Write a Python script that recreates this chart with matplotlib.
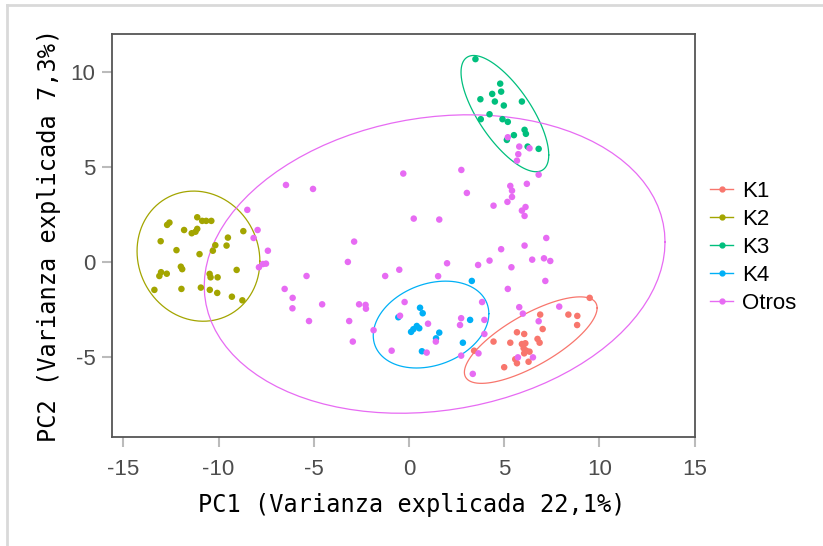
import numpy as np
import matplotlib
matplotlib.use("Agg")
import matplotlib.pyplot as plt
from matplotlib.lines import Line2D

plt.rcParams["axes.unicode_minus"] = False

# PCA scores, one pair of lists per group
k1_x = [9.49, 6.89, 8.37, 8.84, 8.83, 7.02, 5.67, 6.05, 6.75, 6.86, 4.44, 5.32,
        5.93, 6.11, 6.02, 6.16, 6.05, 6.33, 3.42, 5.58, 5.67, 6.28, 5.00]
k1_y = [-1.89, -2.77, -2.77, -2.84, -3.32, -3.53, -3.70, -3.79, -4.05, -4.25, -4.19, -4.25,
        -4.32, -4.28, -4.54, -4.67, -4.81, -4.72, -4.67, -5.12, -5.33, -5.25, -5.54]

k2_x = [-12.58, -12.70, -11.12, -10.86, -10.65, -10.38, -11.81, -11.41, -11.21, -11.12,
        -13.04, -12.21, -11.00, -10.17, -10.30, -9.51, -9.58, -8.70, -11.98, -11.91,
        -13.02, -13.11, -12.72, -9.05, -10.47, -10.42, -10.05, -13.37, -11.95, -10.93,
        -10.46, -10.07, -9.30, -8.75]
k2_y = [2.07, 1.95, 2.35, 2.16, 2.16, 2.16, 1.68, 1.51, 1.59, 1.74,
        1.09, 0.62, 0.41, 0.88, 0.59, 1.28, 0.86, 1.62, -0.25, -0.38,
        -0.54, -0.74, -0.62, -0.42, -0.63, -0.81, -0.81, -1.47, -1.42, -1.35,
        -1.47, -1.63, -1.83, -2.02]

k3_x = [3.49, 4.79, 4.37, 4.84, 3.75, 4.51, 4.98, 5.93, 4.23, 3.77, 4.91, 5.19,
        5.51, 6.07, 6.14, 5.14, 6.23, 6.81]
k3_y = [10.67, 9.38, 8.84, 8.96, 8.56, 8.44, 8.23, 8.44, 7.77, 7.51, 7.51, 7.37,
        6.67, 6.95, 6.74, 6.42, 6.07, 5.95]

k4_x = [3.30, 0.58, 0.72, -0.56, 0.41, 0.23, 0.11, 0.54, 3.21, 1.59, 1.42, 2.83, 0.68]
k4_y = [-1.00, -2.41, -2.70, -2.91, -3.37, -3.54, -3.68, -3.49, -3.05, -3.72, -4.02, -4.25, -4.70]

otros_x = [-8.49, -6.46, -5.04, -0.30, -7.95, -8.16, -7.41, -7.88, -7.67, -7.51,
           -5.38, -2.88, -3.21, -1.25, -0.51, 0.25, 1.59, 2.00, 1.53, -6.53,
           -6.11, -6.12, -4.56, -5.25, -3.14, -2.95, -2.62, -2.28, -2.26, -1.86,
           -0.91, -0.23, -0.47, 1.00, 1.41, 0.93, 3.84, 2.74, 2.68, 3.96,
           3.96, 2.74, 3.65, 5.19, 7.16, 5.79, 5.98, 7.89, 6.81, 5.72,
           6.51, 3.35, 2.75, 3.04, 4.44, 5.32, 5.41, 5.41, 5.17, 6.19,
           6.12, 5.93, 6.07, 7.21, 6.07, 4.84, 4.23, 3.63, 5.38, 6.47,
           7.09, 7.42, 5.19, 5.79, 6.33, 5.74, 5.67, 6.81]
otros_y = [2.74, 4.05, 3.84, 4.65, 1.68, 1.26, 0.59, -0.28, -0.11, -0.09,
           -0.74, 1.07, 0.00, -0.74, -0.41, 2.28, 2.23, -0.07, -0.75, -1.42,
           -1.89, -2.44, -2.23, -3.11, -3.11, -4.19, -2.23, -2.26, -2.46, -3.59,
           -4.67, -2.11, -2.83, -3.25, -4.19, -4.77, -2.11, -2.96, -3.32, -3.05,
           -3.79, -4.93, -4.81, -1.42, -1.00, -2.38, -2.72, -2.35, -3.12, -5.02,
           -5.02, -5.89, 4.84, 3.63, 2.96, 4.00, 3.75, 3.42, 3.16, 4.11,
           2.89, 2.70, 2.42, 1.26, 0.86, 0.67, 0.07, -0.16, -0.28, 0.12,
           0.19, 0.05, 6.56, 6.07, 5.98, 5.67, 5.33, 4.59]

groups = ["K1", "K2", "K3", "K4", "Otros"]
xs = [k1_x, k2_x, k3_x, k4_x, otros_x]
ys = [k1_y, k2_y, k3_y, k4_y, otros_y]
colors = ["#F8766D", "#A3A500", "#00BF7D", "#00B0F6", "#E76BF3"]


def conf_ellipse(x, y, level=0.95, segments=100):
    # normal-theory ellipse, like stat_ellipse(type = "norm")
    pts = np.column_stack([x, y])
    center = pts.mean(axis=0)
    cov = np.cov(pts.T)
    chol = np.linalg.cholesky(cov).T
    radius = np.sqrt(-2 * np.log(1 - level))  # chi-square, 2 df
    t = np.linspace(0, 2 * np.pi, segments + 1)
    circle = np.column_stack([np.cos(t), np.sin(t)])
    ell = center + radius * circle @ chol
    return ell[:, 0], ell[:, 1]


fig = plt.figure(figsize=(8.23, 5.46), dpi=100)
ax = fig.add_axes([0.136, 0.2, 0.708, 0.738])

for x, y, c in zip(xs, ys, colors):
    ex, ey = conf_ellipse(x, y)
    ax.plot(ex, ey, color=c, lw=0.9, zorder=2)
for x, y, c in zip(xs, ys, colors):
    ax.scatter(x, y, s=22, color=c, edgecolors="none", zorder=3)

ax.set_xlim(-15.6, 15.0)
ax.set_ylim(-9.2, 12.0)
ax.set_xticks([-15, -10, -5, 0, 5, 10, 15])
ax.set_yticks([-5, 0, 5, 10])

for s in ax.spines.values():
    s.set_color("#555555")
    s.set_linewidth(1.3)
ax.tick_params(direction="out", length=7, width=1.5, color="#BBBBBB",
               labelcolor="#4D4D4D", labelsize=16, pad=5)
ax.tick_params(axis="x", pad=9)
for lab in ax.get_xticklabels() + ax.get_yticklabels():
    lab.set_family("Liberation Sans")

ax.set_xlabel("PC1 (Varianza explicada 22,1%)", family="DejaVu Sans Mono",
              fontsize=17, labelpad=9)
ax.set_ylabel("PC2 (Varianza explicada 7,3%)", family="DejaVu Sans Mono",
              fontsize=17, labelpad=7)
ax.xaxis.set_label_coords(0.515, -0.14)

handles = [Line2D([0], [0], color=c, lw=1, marker="o", markersize=3.5) for c in colors]
leg = ax.legend(handles, groups, loc="center left", bbox_to_anchor=(0.992, 0.47),
                frameon=False, handlelength=1.05, handletextpad=0.4,
                labelspacing=0.32, prop={"family": "Liberation Sans", "size": 16})

# light grey page border at top and left
fig.add_artist(Line2D([0.009, 1.0], [0.99, 0.99], color="#D9D9D9", lw=2, transform=fig.transFigure))
fig.add_artist(Line2D([0.009, 0.009], [0.0, 0.99], color="#D9D9D9", lw=2, transform=fig.transFigure))

fig.savefig("out.png", dpi=100)
